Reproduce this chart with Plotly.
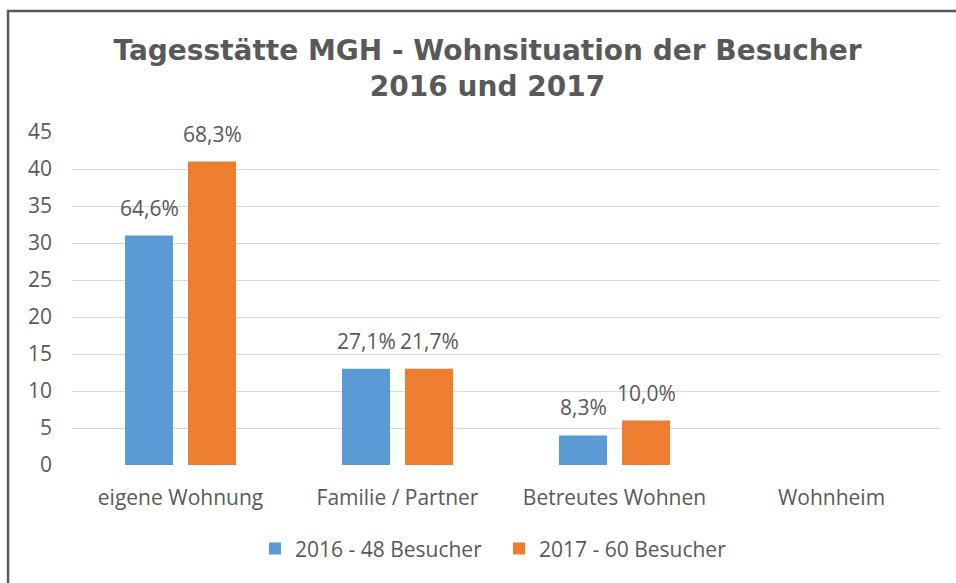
import plotly.graph_objects as go

categories = ["eigene Wohnung", "Familie / Partner", "Betreutes Wohnen", "Wohnheim"]
values_2016 = [31, 13, 4, 0]
values_2017 = [41, 13, 6, 0]
labels_2016 = ["64,6%", "27,1%", "8,3%", ""]
labels_2017 = ["68,3%", "21,7%", "10,0%", ""]
series_names = ["2016 - 48 Besucher", "2017 - 60 Besucher"]
y_ticks = [0, 5, 10, 15, 20, 25, 30, 35, 40, 45]

GRAY = "#595959"
TXT_FONT = "'Open Sans', sans-serif"
FS = 21

fig = go.Figure()
fig.add_trace(go.Bar(
    x=categories, y=values_2016, name=series_names[0],
    marker=dict(color="#5B9BD5", line=dict(width=0)),
))
fig.add_trace(go.Bar(
    x=categories, y=values_2017, name=series_names[1],
    marker=dict(color="#ED7D31", line=dict(width=0)),
))

annotations = []
for vals, labs, shift in [(values_2016, labels_2016, -31.5), (values_2017, labels_2017, 31.5)]:
    for c, v, t in zip(categories, vals, labs):
        if t:
            annotations.append(dict(
                x=c, y=v, xref="x", yref="y", text=t, showarrow=False,
                xshift=shift, yshift=12, yanchor="bottom",
                font=dict(family=TXT_FONT, size=FS, color=GRAY),
            ))

fig.update_layout(
    width=956, height=583,
    margin=dict(l=72, r=16, t=132, b=118),
    paper_bgcolor="white", plot_bgcolor="white",
    barmode="group", bargap=0.419, bargroupgap=0.238,
    title=dict(
        text="Tagesstätte MGH - Wohnsituation der Besucher<br>2016 und 2017",
        x=487.5 / 956, xanchor="center", y=1 - 59.5 / 583, yanchor="middle",
        font=dict(family="DejaVu Sans", size=28, color=GRAY, weight="bold"),
    ),
    font=dict(family=TXT_FONT, size=FS, color=GRAY),
    legend=dict(
        orientation="h", x=(255 - 72) / 868, xanchor="left", y=-0.252, yanchor="middle",
        font=dict(family=TXT_FONT, size=FS, color=GRAY),
        itemwidth=30, entrywidth=199, entrywidthmode="pixels",
    ),
    yaxis=dict(
        range=[0, 45], tickvals=y_ticks, showgrid=True, gridcolor="#D9D9D9",
        gridwidth=1, zeroline=False, showline=False,
        tickfont=dict(family=TXT_FONT, size=FS, color=GRAY),
        ticklabelstandoff=19,
    ),
    xaxis=dict(
        showline=False, showgrid=False,
        tickfont=dict(family=TXT_FONT, size=FS, color=GRAY),
        ticklabelstandoff=18,
    ),
    annotations=annotations,
    shapes=[dict(
        type="rect", xref="paper", yref="paper",
        x0=-0.0737, x1=1.2, y0=-0.6, y1=1.363,
        line=dict(color=GRAY, width=2.5), fillcolor="rgba(0,0,0,0)", layer="above",
    )],
)

fig.write_html("out.html", config={"displayModeBar": False},
               post_script="document.body.style.margin='0';")
